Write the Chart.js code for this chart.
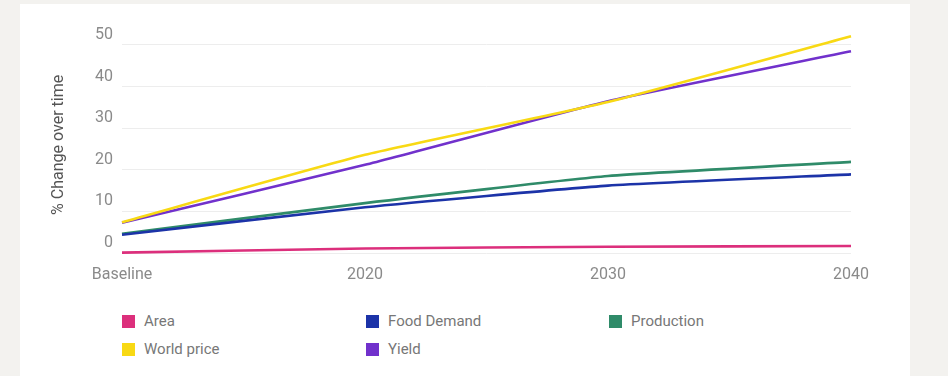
<!DOCTYPE html>
<html>
<head>
<meta charset="utf-8">
<script src="https://cdn.jsdelivr.net/npm/chart.js@4.4.0/dist/chart.umd.min.js"></script>
<style>
  html, body { margin: 0; padding: 0; }
  body { width: 948px; height: 376px; background: #f3f2ef; position: relative; overflow: hidden; font-family: Roboto, "Open Sans", Arial, sans-serif; }
  #panel { position: absolute; left: 20px; top: 4px; width: 890px; height: 380px; background: #fff; }
  #wrap { position: absolute; left: 0; top: 0; width: 948px; height: 290px; }
  #legend { position: absolute; left: 0; top: 312px; width: 948px; }
  .item { position: absolute; display: flex; align-items: center; font-size: 15px; color: #777; white-space: nowrap; line-height: 18px; }
  .box { width: 13px; height: 13px; margin-right: 9px; }
</style>
</head>
<body>
<div id="panel"></div>
<div id="wrap"><canvas id="trendChart"></canvas></div>
<div id="legend"></div>
<script>
const labels = ['Baseline', '2020', '2030', '2040'];
const seriesNames = ['Area', 'Food Demand', 'Production', 'World price', 'Yield'];
const seriesColors = ['#dc2f7c', '#1c33a8', '#2f8b69', '#f8d914', '#7131cc'];

const area = [0.1, 1.1, 1.5, 1.7];
const foodDemand = [4.4, 11.0, 16.2, 18.9];
const production = [4.6, 12.0, 18.5, 21.9];
const worldPrice = [7.4, 23.6, 36.3, 52.1];
const yieldPct = [7.3, 21.2, 36.5, 48.5];

const yTicks = [0, 10, 20, 30, 40, 50];

const allSeries = [area, foodDemand, production, worldPrice, yieldPct];

const ctx = document.getElementById('trendChart').getContext('2d');

const datasets = allSeries.map((vals, i) => ({
    label: seriesNames[i],
    data: vals,
    borderColor: seriesColors[i],
    backgroundColor: seriesColors[i],
    borderWidth: 2.6,
    pointRadius: 0,
    tension: 0.15,
    fill: false
}));

const trendChart = new Chart(ctx, {
    type: 'line',
    data: { labels: labels, datasets: datasets },
    options: {
        responsive: true,
        maintainAspectRatio: false,
        animation: false,
        layout: { padding: { left: 40, right: 97, top: 32.5, bottom: 2.8 } },
        plugins: {
            legend: { display: false },
            tooltip: { enabled: false }
        },
        scales: {
            x: {
                grid: { display: false, drawTicks: false },
                border: { display: false },
                ticks: {
                    color: '#8a8a8a',
                    padding: 8,
                    maxRotation: 0,
                    font: { family: 'Roboto', size: 16 }
                },
                afterFit: scale => { scale.height = 30; }
            },
            y: {
                min: -1,
                max: 53,
                afterBuildTicks: scale => { scale.ticks = yTicks.map(v => ({ value: v })); },
                afterFit: scale => { scale.width = 82; },
                grid: { color: '#ededed', lineWidth: 1, drawTicks: false },
                border: { display: false },
                ticks: {
                    color: '#8a8a8a',
                    padding: 9,
                    labelOffset: -10,
                    font: { family: 'Roboto', size: 16 }
                },
                title: {
                    display: true,
                    text: '% Change over time',
                    color: '#555',
                    padding: { top: 9, bottom: 0 },
                    font: { family: 'Roboto', size: 16 }
                }
            }
        }
    }
});

// html legend, laid out in 3 columns under the category positions
const legendEl = document.getElementById('legend');
const colX = [122, 366, 609];
seriesNames.forEach((name, i) => {
    const item = document.createElement('div');
    item.className = 'item';
    item.style.left = colX[i % 3] + 'px';
    item.style.top = (Math.floor(i / 3) * 28) + 'px';
    const box = document.createElement('span');
    box.className = 'box';
    box.style.background = seriesColors[i];
    const txt = document.createElement('span');
    txt.textContent = name;
    item.appendChild(box);
    item.appendChild(txt);
    legendEl.appendChild(item);
});
</script>
</body>
</html>
